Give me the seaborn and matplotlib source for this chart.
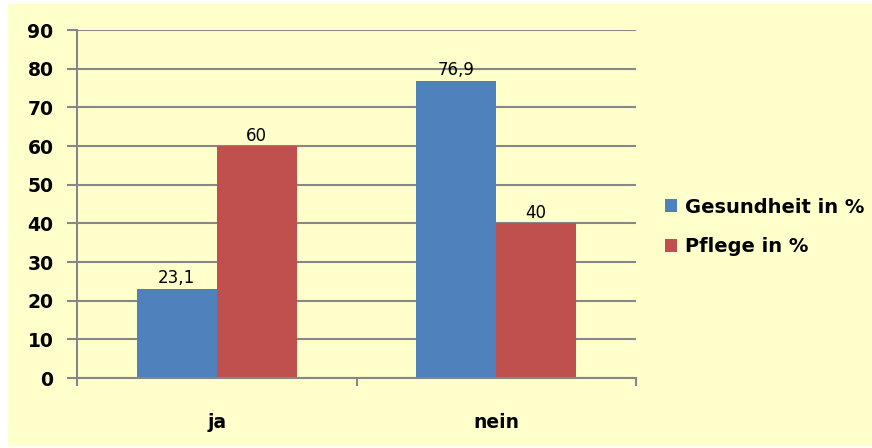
import pandas as pd
import matplotlib.pyplot as plt
import seaborn as sns
from matplotlib.patches import Rectangle

# Data
categories = ["ja", "nein"]
gesundheit = [23.1, 76.9]
pflege = [60, 40]
series_names = ["Gesundheit in %", "Pflege in %"]
yticks = [0, 10, 20, 30, 40, 50, 60, 70, 80, 90]

df = pd.DataFrame({
    "Antwort": categories * 2,
    "Wert": gesundheit + pflege,
    "Reihe": [series_names[0]] * 2 + [series_names[1]] * 2,
})

sns.set_style("white")
plt.rcParams['font.family'] = ['DejaVu Sans']
plt.rcParams['text.color'] = 'black'

bg = "#FFFFCC"
grid_col = "#878787"

fig = plt.figure(figsize=(8.72, 4.48), dpi=100, facecolor="white")
fig.patches.append(Rectangle((8 / 872, 2 / 448), 1, 1 - 6 / 448,
                             transform=fig.transFigure, facecolor=bg,
                             edgecolor="none", zorder=-10))
ax = fig.add_axes([77 / 872, 1 - 378 / 448, 559 / 872, 348 / 448])
ax.set_facecolor(bg)

sns.barplot(data=df, x="Antwort", y="Wert", hue="Reihe",
            palette=["#4F81BD", "#C0504D"], width=0.572,
            saturation=1, edgecolor="none", ax=ax)

# value labels with German decimal comma
for cont in ax.containers:
    labels = [f"{b.get_height():g}".replace(".", ",") for b in cont]
    ax.bar_label(cont, labels=labels, padding=1, fontsize=12,
                 color="black")

ax.set_xlim(-0.5, 1.5)
ax.set_ylim(0, 90)
ax.set_yticks(yticks)
ax.set_yticklabels([str(t) for t in yticks], fontsize=13.5, fontweight="bold")
ax.yaxis.grid(True, color=grid_col, linewidth=1.5)
ax.set_axisbelow(True)
ax.tick_params(axis="y", length=7, width=1.5, color=grid_col, pad=10,
               left=True, labelcolor="black")

ax.set_xticks([0, 1])
ax.set_xticklabels(categories, fontsize=13.5, fontweight="bold")
ax.set_xticks([-0.5, 0.5, 1.5], minor=True)
ax.tick_params(axis="x", which="major", length=0, pad=25, labelcolor="black")
ax.tick_params(axis="x", which="minor", length=6, width=1.5,
               color=grid_col, bottom=True)

for s in ["top", "right"]:
    ax.spines[s].set_visible(False)
for s in ["left", "bottom"]:
    ax.spines[s].set_color(grid_col)
    ax.spines[s].set_linewidth(1.5)

ax.set_xlabel("")
ax.set_ylabel("")

leg = ax.legend(loc="center left", bbox_to_anchor=(1.02, 0.434), frameon=False,
                prop={"weight": "bold", "size": 14}, handlelength=0.65,
                handleheight=0.65, handletextpad=0.4, labelspacing=1.05)

fig.savefig("out.png", dpi=100, facecolor="white")
